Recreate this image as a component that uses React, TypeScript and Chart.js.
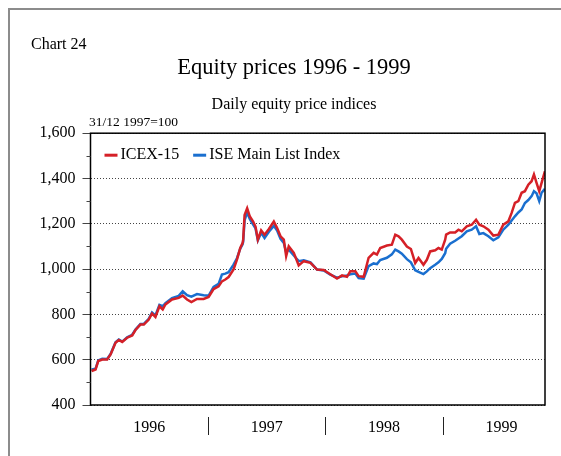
import React, { useEffect, useRef } from 'react';
import { Chart, registerables } from 'chart.js';

Chart.register(...registerables);

const FONT = "'Liberation Serif', 'Times New Roman', serif";

const chartNumber = 'Chart 24';
const chartTitle = 'Equity prices 1996 - 1999';
const chartSubtitle = 'Daily equity price indices';
const unitLabel = '31/12 1997=100';
const seriesNames = ['ICEX-15', 'ISE Main List Index'];
const seriesColors = ['#d52027', '#1a6fcf'];

const yearLabels = ['1996', '1997', '1998', '1999'];
const yearLabelPositions = [1996.5, 1997.5, 1998.5, 1999.5];
const yearBoundaries = [1997, 1998, 1999];
const xMin = 1996;
const xMax = 1999.87;
const yMin = 400;
const yMax = 1600;
const yStep = 200;
const yMinorTicks = [500, 700, 900, 1100, 1300, 1500];

// dates as decimal years
const dates = [
  1996.009, 1996.043, 1996.066, 1996.100, 1996.142, 1996.171, 1996.213, 1996.241, 1996.270, 1996.312,
  1996.355, 1996.383, 1996.425, 1996.454, 1996.496, 1996.524, 1996.553, 1996.587, 1996.615, 1996.638,
  1996.694, 1996.751, 1996.785, 1996.822, 1996.859, 1996.907, 1996.963, 1997.006, 1997.048, 1997.091,
  1997.119, 1997.148, 1997.176, 1997.218, 1997.247, 1997.275, 1997.295, 1997.300, 1997.312, 1997.334,
  1997.357, 1997.385, 1997.405, 1997.425, 1997.453, 1997.482, 1997.519, 1997.561, 1997.589, 1997.618,
  1997.646, 1997.666, 1997.688, 1997.731, 1997.773, 1997.816, 1997.873, 1997.929, 1997.986, 1998.042,
  1998.099, 1998.142, 1998.184, 1998.212, 1998.255, 1998.283, 1998.326, 1998.368, 1998.411, 1998.439,
  1998.467, 1998.524, 1998.566, 1998.595, 1998.623, 1998.651, 1998.694, 1998.728, 1998.765, 1998.793,
  1998.835, 1998.864, 1998.892, 1998.935, 1998.963, 1998.991, 1999.020, 1999.028, 1999.062, 1999.105,
  1999.133, 1999.161, 1999.204, 1999.246, 1999.283, 1999.311, 1999.345, 1999.388, 1999.430, 1999.473,
  1999.515, 1999.558, 1999.586, 1999.614, 1999.643, 1999.671, 1999.699, 1999.728, 1999.756, 1999.776,
  1999.798, 1999.821, 1999.841, 1999.869,
];

const icex15 = [
  550, 557, 594, 601, 601, 623, 675, 687, 678, 697,
  707, 731, 755, 755, 777, 804, 789, 836, 822, 844,
  866, 873, 883, 866, 854, 868, 868, 877, 912, 924,
  946, 954, 965, 998, 1042, 1093, 1115, 1130, 1239, 1269,
  1232, 1210, 1188, 1130, 1171, 1152, 1177, 1210, 1181, 1145,
  1130, 1057, 1101, 1072, 1016, 1035, 1028, 998, 996, 977,
  958, 972, 966, 991, 991, 969, 966, 1050, 1072, 1064,
  1093, 1104, 1108, 1152, 1145, 1130, 1100, 1089, 1027, 1049,
  1019, 1041, 1078, 1083, 1093, 1086, 1130, 1152, 1162, 1162,
  1174, 1167, 1189, 1196, 1218, 1196, 1189, 1174, 1148, 1152,
  1196, 1211, 1248, 1292, 1300, 1337, 1344, 1373, 1388, 1418,
  1381, 1344, 1381, 1432,
];

const iseMainList = [
  557, 560, 597, 604, 603, 625, 677, 689, 680, 699,
  710, 733, 758, 758, 780, 808, 795, 842, 836, 850,
  872, 882, 902, 885, 878, 890, 885, 883, 921, 935,
  976, 980, 986, 1020, 1048, 1090, 1110, 1120, 1215, 1250,
  1220, 1196, 1180, 1127, 1160, 1137, 1165, 1191, 1170, 1133,
  1115, 1075, 1086, 1060, 1035, 1039, 1030, 998, 994, 975,
  962, 968, 972, 977, 980, 960, 958, 1013, 1025, 1022,
  1040, 1050, 1065, 1086, 1078, 1068, 1044, 1030, 995, 988,
  978, 990, 1004, 1019, 1030, 1045, 1070, 1090, 1112, 1125,
  1135, 1145, 1167, 1174, 1189, 1155, 1159, 1145, 1127, 1140,
  1174, 1196, 1215, 1233, 1250, 1263, 1292, 1305, 1322, 1344,
  1335, 1300, 1337, 1354,
];

const decorPlugin = {
  id: 'decor',
  beforeDraw(chart: any) {
    const ctx = chart.ctx;
    ctx.save();
    ctx.fillStyle = '#ffffff';
    ctx.fillRect(0, 0, chart.width, chart.height);
    ctx.strokeStyle = '#8c8c8c';
    ctx.lineWidth = 2;
    ctx.beginPath();
    ctx.moveTo(9, chart.height);
    ctx.lineTo(9, 9);
    ctx.lineTo(chart.width, 9);
    ctx.stroke();
    ctx.fillStyle = '#000';
    ctx.textBaseline = 'middle';
    ctx.textAlign = 'left';
    ctx.font = `16px ${FONT}`;
    ctx.fillText(chartNumber, 31, 45);
    ctx.font = `13.5px ${FONT}`;
    ctx.fillText(unitLabel, 89, 122);
    ctx.restore();
  },
  afterDraw(chart: any) {
    const { ctx, chartArea: a, scales } = chart;
    ctx.save();
    // plot frame
    ctx.strokeStyle = '#000';
    ctx.lineWidth = 1.5;
    ctx.strokeRect(a.left, a.top, a.right - a.left, a.bottom - a.top);
    // minor y ticks
    ctx.strokeStyle = '#444';
    ctx.lineWidth = 1;
    yMinorTicks.forEach((v) => {
      const py = Math.round(scales.y.getPixelForValue(v)) + 0.5;
      ctx.beginPath();
      ctx.moveTo(a.left - 4, py);
      ctx.lineTo(a.left, py);
      ctx.stroke();
    });
    // year separators
    ctx.strokeStyle = '#222';
    yearBoundaries.forEach((v) => {
      const px = Math.round(scales.x.getPixelForValue(v)) + 0.5;
      ctx.beginPath();
      ctx.moveTo(px, a.bottom + 12);
      ctx.lineTo(px, a.bottom + 30);
      ctx.stroke();
    });
    // legend inside plot
    ctx.font = `16px ${FONT}`;
    ctx.textBaseline = 'middle';
    ctx.textAlign = 'left';
    let lx = a.left + 14;
    const ly = a.top + 22;
    chart.data.datasets.forEach((ds: any) => {
      ctx.strokeStyle = ds.borderColor;
      ctx.lineWidth = 3;
      ctx.beginPath();
      ctx.moveTo(lx, ly);
      ctx.lineTo(lx + 13, ly);
      ctx.stroke();
      ctx.fillStyle = '#000';
      ctx.fillText(ds.label, lx + 16, ly);
      lx += 16 + ctx.measureText(ds.label).width + 14;
    });
    ctx.restore();
  },
};

export default function App() {
  const ref = useRef<HTMLCanvasElement>(null);
  useEffect(() => {
    document.body.style.margin = '0';
    const canvas = ref.current!;
    const chart = new Chart(canvas, {
      type: 'line',
      data: {
        datasets: [
          {
            label: seriesNames[0],
            data: dates.map((d, i) => ({ x: d, y: icex15[i] })),
            borderColor: seriesColors[0],
            backgroundColor: seriesColors[0],
            borderWidth: 2.5,
            pointRadius: 0,
            tension: 0,
          },
          {
            label: seriesNames[1],
            data: dates.map((d, i) => ({ x: d, y: iseMainList[i] })),
            borderColor: seriesColors[1],
            backgroundColor: seriesColors[1],
            borderWidth: 2.5,
            pointRadius: 0,
            tension: 0,
          },
        ],
      },
      options: {
        animation: false,
        responsive: false,
        layout: { padding: { left: 30, right: 3, top: 0, bottom: 0 } },
        plugins: {
          legend: { display: false },
          tooltip: { enabled: false },
          title: {
            display: true,
            text: chartTitle,
            color: '#000',
            font: { family: FONT, size: 22.5, weight: 'normal' },
            padding: { top: 55, bottom: 0 },
          },
          subtitle: {
            display: true,
            text: chartSubtitle,
            color: '#000',
            font: { family: FONT, size: 16, weight: 'normal' },
            padding: { top: 13, bottom: 19 },
          },
        },
        scales: {
          x: {
            type: 'linear',
            min: xMin,
            max: xMax,
            grid: { display: false, drawTicks: false },
            border: { display: false },
            afterBuildTicks: (scale: any) => {
              scale.ticks = yearLabelPositions.map((v) => ({ value: v }));
            },
            afterFit: (scale: any) => {
              scale.height = 51;
            },
            ticks: {
              autoSkip: false,
              maxRotation: 0,
              color: '#000',
              padding: 13,
              font: { family: FONT, size: 16 },
              callback: (value: any) => {
                const idx = yearLabelPositions.indexOf(Number(value));
                return idx >= 0 ? yearLabels[idx] : '';
              },
            },
          },
          y: {
            type: 'linear',
            position: 'left',
            min: yMin,
            max: yMax,
            afterFit: (scale: any) => {
              scale.width = 60.5;
            },
            grid: {
              color: '#444',
              lineWidth: 1,
              borderDash: [1, 2],
              drawTicks: true,
              tickLength: 8,
              tickColor: '#444',
              tickWidth: 1,
              tickBorderDash: [],
            },
            border: { display: false, dash: [1, 2] },
            ticks: {
              stepSize: yStep,
              color: '#000',
              padding: 7,
              font: { family: FONT, size: 16 },
              callback: (value: any) => Number(value).toLocaleString('en-US'),
            },
          },
          yRight: {
            type: 'linear',
            position: 'right',
            min: yMin,
            max: yMax,
            grid: { display: false, drawTicks: false },
            border: { display: false },
            ticks: { display: false },
            afterFit: (scale: any) => {
              scale.width = 13;
            },
          },
        },
      } as any,
      plugins: [decorPlugin],
    });
    return () => chart.destroy();
  }, []);
  return (
    <div style={{ width: 561, height: 456 }}>
      <canvas ref={ref} width={561} height={456} style={{ display: 'block' }} />
    </div>
  );
}
